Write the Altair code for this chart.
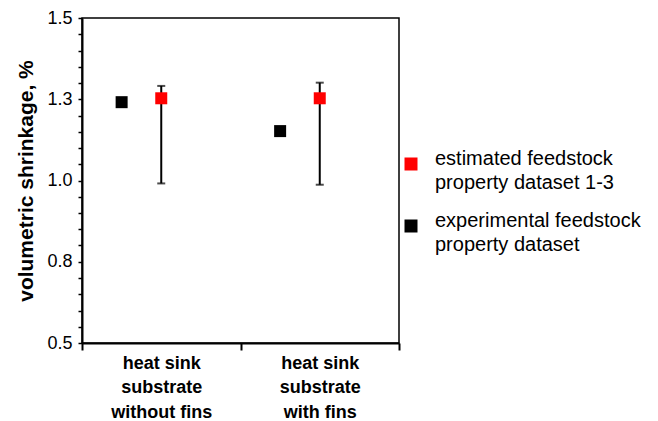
import altair as alt
import pandas as pd

# Categories (group index 1, 2) and their multi-line labels
groups = [1, 2]
group_labels = [
    ["heat sink", "substrate", "without fins"],
    ["heat sink", "substrate", "with fins"],
]

series_names = [
    "estimated feedstock property dataset 1-3",
    "experimental feedstock property dataset",
]
series_lines = [
    ["estimated feedstock", "property dataset 1-3"],
    ["experimental feedstock", "property dataset"],
]
series_colors = ["#ff0000", "#000000"]
series_offsets = [0.0, -0.25]

# Volumetric shrinkage values (%)
estimated_mean = [1.253, 1.253]
estimated_low = [0.991, 0.987]
estimated_high = [1.291, 1.301]
experimental_value = [1.241, 1.152]

y_ticks = [round(0.5 + 0.05 * i, 2) for i in range(21)]

rows = []
for i, g in enumerate(groups):
    rows.append(dict(pos=g + series_offsets[0], series=series_names[0],
                     value=estimated_mean[i], low=estimated_low[i], high=estimated_high[i]))
    rows.append(dict(pos=g + series_offsets[1], series=series_names[1],
                     value=experimental_value[i], low=None, high=None))
df = pd.DataFrame(rows)
err_df = df[df["series"] == series_names[0]]

FONT = "Liberation Sans"
Y_TITLE = "volumetric shrinkage, %"

x_label_expr = " : ".join(
    [f"datum.value == {g} ? {lbl!r}" for g, lbl in zip(groups, group_labels)] + ["''"]
)

y_scale = alt.Scale(domain=[0.5, 1.5], nice=False, zero=False)
x_scale = alt.Scale(domain=[0.5, 2.5], nice=False, zero=False)

x_axis = alt.Axis(
    title=None,
    grid=False,
    values=[0.5, 1, 1.5, 2, 2.5],
    labelExpr=x_label_expr,
    tickOpacity={"condition": {"test": "datum.value == 1 || datum.value == 2", "value": 0}, "value": 1},
    tickSize=7,
    tickWidth=2,
    labelPadding=4,
    labelFontSize=18,
    labelFontWeight="bold",
    labelLineHeight=24.5,
    labelBaseline="top",
    labelOverlap=False,
)

y_axis = alt.Axis(
    title=Y_TITLE,
    grid=False,
    values=y_ticks,
    labelExpr="abs(datum.value * 4 - round(datum.value * 4)) < 0.001 ? format(datum.value, '.1f') : ''",
    tickSize=4,
    tickWidth=1.5,
    labelPadding=6,
    labelFontSize=18,
    labelOverlap=False,
    labelFlush=False,
    titleFontSize=21,
    titleFontWeight="bold",
    titlePadding=10,
)


def xq(field):
    return alt.X(field, type="quantitative", scale=x_scale, axis=x_axis, title=None)


def yq(field):
    return alt.Y(field, type="quantitative", scale=y_scale, axis=y_axis, title=Y_TITLE)


# Error bars of the estimated series: stem plus caps
err_rule = alt.Chart(err_df).mark_rule(color="black", strokeWidth=2).encode(
    x=xq("pos"), y=yq("low"), y2="high:Q"
)
cap_low = alt.Chart(err_df).mark_tick(color="black", orient="horizontal", size=8, thickness=2).encode(
    x=xq("pos"), y=yq("low")
)
cap_high = alt.Chart(err_df).mark_tick(color="black", orient="horizontal", size=8, thickness=2).encode(
    x=xq("pos"), y=yq("high")
)

points = alt.Chart(df).mark_square(size=144, opacity=1).encode(
    x=xq("pos"),
    y=yq("value"),
    color=alt.Color(
        "series:N",
        scale=alt.Scale(domain=series_names, range=series_colors),
        legend=None,
    ),
)

# Legend drawn beside the plot: a square and a two-line label per series
legend_layers = []
for k, (name, lines, colour) in enumerate(zip(series_names, series_lines, series_colors)):
    entry_top = 146 + 62 * k
    legend_layers.append(
        alt.Chart(pd.DataFrame({"series": [name]})).mark_square(size=169, opacity=1, color=colour).encode(
            x=alt.value(329), y=alt.value(entry_top)
        )
    )
    legend_layers.append(
        alt.Chart(pd.DataFrame({"label": ["\n".join(lines)]})).mark_text(
            align="left", baseline="alphabetic", fontSize=20, font=FONT, color="black",
            lineBreak="\n", lineHeight=24,
        ).encode(x=alt.value(353), y=alt.value(entry_top + 1), text="label:N")
    )

chart = (
    alt.layer(err_rule, cap_low, cap_high, points, *legend_layers)
    .properties(
        width=317,
        height=325,
        autosize=alt.AutoSizeParams(type="none"),
        padding={"left": 82, "top": 18, "right": 259, "bottom": 78},
        background="white",
    )
    .configure_view(stroke="black", strokeWidth=1.5)
    .configure_axis(
        domainColor="black",
        domainWidth=2,
        tickColor="black",
        labelColor="black",
        titleColor="black",
        labelFont=FONT,
        titleFont=FONT,
    )
)

chart.save("out.html", embed_options={"renderer": "svg", "actions": False})
